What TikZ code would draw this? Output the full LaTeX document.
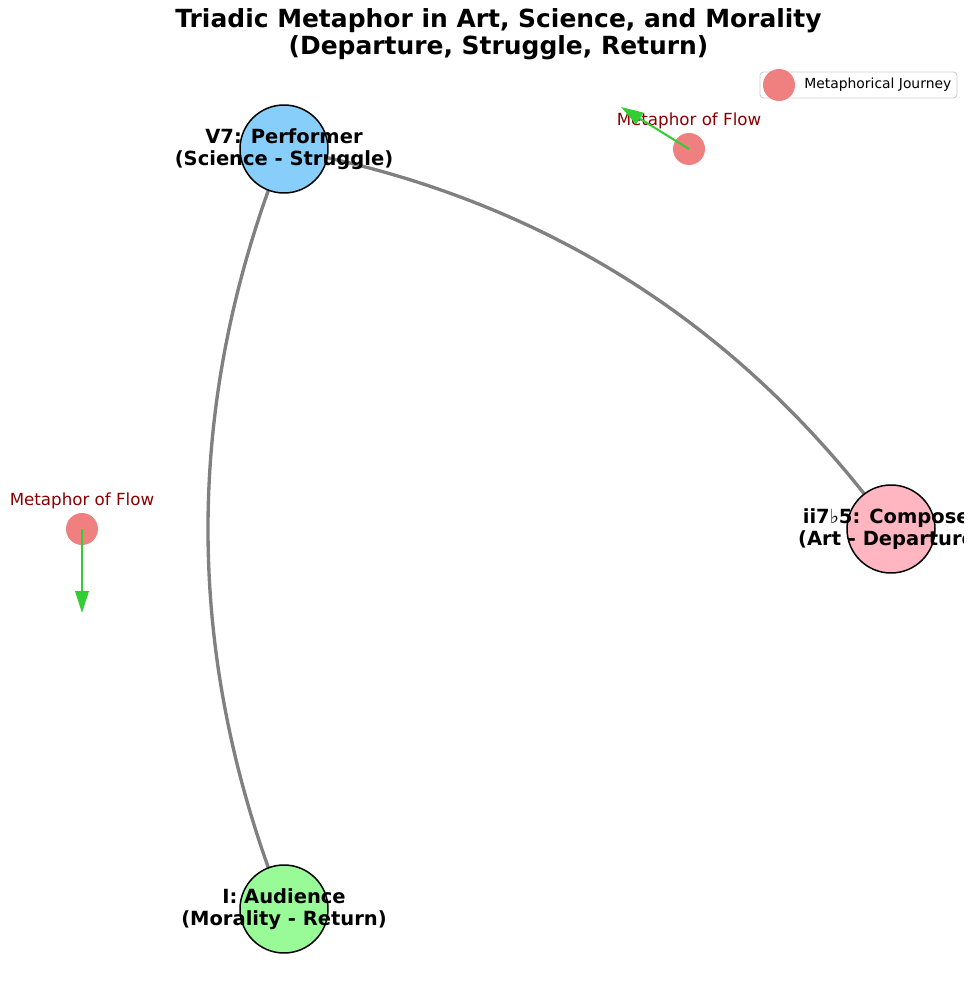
\documentclass[tikz,border=0pt]{standalone}
\usepackage{fontspec}
\setmainfont{DejaVu Sans}
\usetikzlibrary{arrows.meta}
\definecolor{skyc}{HTML}{87CEFA}
\definecolor{pinkc}{HTML}{FFB6C1}
\definecolor{greenc}{HTML}{98FB98}
\definecolor{coralc}{HTML}{F08080}
\definecolor{limec}{HTML}{32CD32}
\definecolor{darkredc}{HTML}{8B0000}
\definecolor{edgec}{HTML}{808080}
\definecolor{legc}{HTML}{CCCCCC}
\tikzset{
  chord/.style={circle, draw=black, line width=0.85pt, minimum size=1.76cm, inner sep=0pt},
  chordlabel/.style={align=center, inner sep=0pt, font=\fontsize{11.1}{12.5}\selectfont\bfseries},
  journey/.style={draw=edgec, line width=1.9pt},
  flowdot/.style={circle, fill=coralc, minimum size=0.64cm, inner sep=0pt},
  flowlabel/.style={text=darkredc, inner sep=0pt, font=\fontsize{9.5}{11}\selectfont},
  flowarrow/.style={draw=limec, line width=1.15pt, -{Triangle[length=0.44cm,width=0.27cm]}},
  titletext/.style={align=center, inner sep=0pt, font=\fontsize{14.2}{15.4}\selectfont\bfseries}
}
\begin{document}
\begin{tikzpicture}[x=0.02cm, y=-0.02cm]
\useasboundingbox (0,0) rectangle (973,999);
\begin{scope}
\clip (0,0) rectangle (963,999);
% title
\node[titletext] (title) at (498.5,34.5) {Triadic Metaphor in Art, Science, and Morality\\(Departure, Struggle, Return)};
% chord node positions
\coordinate (pv7) at (284,149);
\coordinate (pii) at (891,529);
\coordinate (pI) at (284,909);
% edges
\draw[journey] (pii) .. controls (739.33,321.4) and (537,194.73) .. (pv7);
\draw[journey] (pv7) .. controls (182.67,402.33) and (182.67,655.67) .. (pI);
\node[chord, fill=skyc] (v7) at (pv7) {};
\node[chord, fill=pinkc] (ii) at (pii) {};
\node[chord, fill=greenc] (I) at (pI) {};
\node[chordlabel] (v7l) at (v7) {V7: Performer\\(Science - Struggle)};
\node[chordlabel] (iil) at (ii) {ii7{\mdseries ♭}5: Composer\\(Art - Departure)};
\node[chordlabel] (Il) at (I) {I: Audience\\(Morality - Return)};
% flow markers
\node[flowdot] (f1) at (689,149) {};
\node[flowlabel] (f1l) at (689,121) {Metaphor of Flow};
\coordinate (f1end) at (621,107);
\draw[flowarrow] (f1.center) -- (f1end);
\node[flowdot] (f2) at (82,529) {};
\node[flowlabel] (f2l) at (82,501) {Metaphor of Flow};
\coordinate (f2end) at (82,613);
\draw[flowarrow] (f2.center) -- (f2end);
% legend
\draw[draw=legc, fill=white, line width=0.5pt, rounded corners=2pt] (760,72) rectangle (957,98);
\node[flowdot] (legdot) at (779,85) {};
\node[anchor=west, inner sep=0pt, font=\fontsize{7.9}{9}\selectfont] (legtext) at (804,85) {Metaphorical Journey};
\end{scope}
\end{tikzpicture}
\end{document}
